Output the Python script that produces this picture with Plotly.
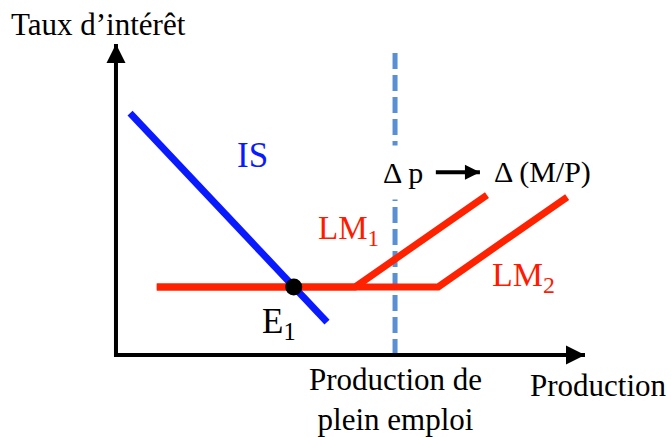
import plotly.graph_objects as go

# Conceptual data (production on x, interest rate on y)
axis_x = [0, 0, 10]
axis_y = [10, 0, 0]

is_x = [0.30, 4.50]
is_y = [7.78, 1.06]

lm1_x = [0.87, 5.10, 7.91]
lm1_y = [2.19, 2.19, 5.14]

lm2_x = [0.87, 6.87, 9.62]
lm2_y = [2.19, 2.19, 5.08]

eq_x = [3.79]
eq_y = [2.19]

full_emp_x = [5.95, 5.95]
full_emp_y = [0.0, 9.8]

shift_x = [6.82, 7.76]
shift_y = [5.88, 5.88]

SERIF = "Liberation Serif, Times New Roman, serif"

fig = go.Figure()

fig.add_trace(go.Scatter(x=full_emp_x, y=full_emp_y, mode="lines",
                         line=dict(color="#5b8fd3", width=5, dash="16px,6px"),
                         hoverinfo="skip"))
fig.add_trace(go.Scatter(x=axis_x, y=axis_y, mode="lines",
                         line=dict(color="black", width=4), hoverinfo="skip"))
# axis arrowheads
fig.add_trace(go.Scatter(x=[axis_x[2]], y=[axis_y[2]], mode="markers",
                         marker=dict(symbol="arrow-right", size=19, color="black",
                                     line=dict(width=0)), hoverinfo="skip"))
fig.add_trace(go.Scatter(x=[axis_x[0]], y=[axis_y[0]], mode="markers",
                         marker=dict(symbol="arrow-up", size=19, color="black",
                                     line=dict(width=0)), hoverinfo="skip"))
fig.add_trace(go.Scatter(x=lm2_x, y=lm2_y, mode="lines",
                         line=dict(color="#ff2200", width=7), hoverinfo="skip"))
fig.add_trace(go.Scatter(x=lm1_x, y=lm1_y, mode="lines",
                         line=dict(color="#ff2200", width=7), hoverinfo="skip"))
fig.add_trace(go.Scatter(x=is_x, y=is_y, mode="lines",
                         line=dict(color="#0a1aff", width=7), hoverinfo="skip"))
fig.add_trace(go.Scatter(x=eq_x, y=eq_y, mode="markers",
                         marker=dict(color="black", size=17), hoverinfo="skip"))
# Δp -> Δ(M/P) arrow
fig.add_trace(go.Scatter(x=shift_x, y=shift_y, mode="lines",
                         line=dict(color="black", width=4), hoverinfo="skip"))
fig.add_trace(go.Scatter(x=[shift_x[1]], y=[shift_y[1]], mode="markers",
                         marker=dict(symbol="arrow-right", size=15, color="black",
                                     line=dict(width=0)), hoverinfo="skip"))

annotations = [
    dict(x=6.13, y=5.88, text="Δ p", bgcolor="white", borderpad=10,
         font=dict(family=SERIF, size=30, color="black")),
    dict(x=8.02, y=5.88, text="Δ (M/P)", xanchor="left",
         font=dict(family=SERIF, size=30, color="black")),
    dict(x=-0.38, y=10.64, text="Taux d’intérêt",
         font=dict(family=SERIF, size=31, color="black")),
    dict(x=2.92, y=6.43, text="IS",
         font=dict(family=SERIF, size=35, color="#0a1aff")),
    dict(x=4.27, y=4.0, text="LM<sub>1</sub>", xanchor="left",
         font=dict(family=SERIF, size=33, color="#ff1a00")),
    dict(x=7.98, y=2.5, text="LM<sub>2</sub>", xanchor="left",
         font=dict(family=SERIF, size=34, color="#ff1a00")),
    dict(x=3.08, y=1.0, text="E<sub>1</sub>", xanchor="left",
         font=dict(family=SERIF, size=35, color="black")),
    dict(x=5.95, y=-1.43, text="Production de<br>plein emploi",
         font=dict(family=SERIF, size=31, color="black")),
    dict(x=10.28, y=-0.98, text="Production",
         font=dict(family=SERIF, size=31, color="black")),
]
for a in annotations:
    a.update(xref="x", yref="y", showarrow=False)

fig.update_layout(
    width=671, height=437,
    margin=dict(l=0, r=0, t=0, b=0),
    paper_bgcolor="white", plot_bgcolor="white",
    showlegend=False,
    xaxis=dict(range=[-2.473, 11.834], visible=False, fixedrange=True),
    yaxis=dict(range=[-2.637, 11.415], visible=False, fixedrange=True),
    annotations=annotations,
)

fig.write_html("out.html", config={"displayModeBar": False},
               post_script="document.body.style.margin='0';document.body.style.overflow='hidden';")
